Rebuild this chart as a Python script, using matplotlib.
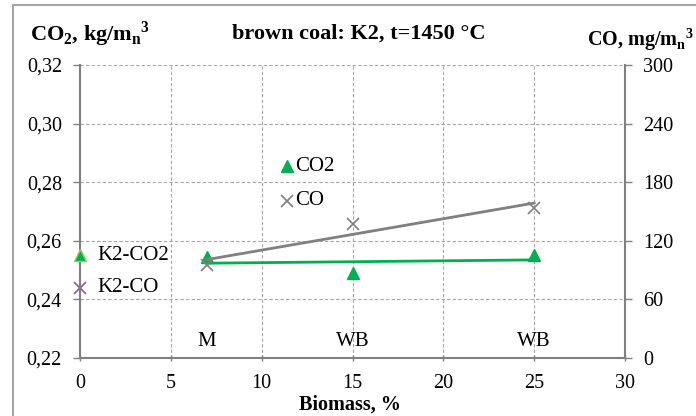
import numpy as np
import matplotlib.pyplot as plt
from matplotlib.patches import Rectangle

plt.rcParams['font.family'] = ['Liberation Serif', 'DejaVu Serif']
plt.rcParams['mathtext.fontset'] = 'custom'
plt.rcParams['mathtext.rm'] = 'Liberation Serif'
plt.rcParams['mathtext.bf'] = 'Liberation Serif:bold'

# biomass share, %
biomass = [7, 15, 25]
co2 = [0.2545, 0.249, 0.2552]      # kg/m_n^3, left axis
co = [95, 137, 154]                # mg/m_n^3, right axis
biomass_kind = ['M', 'WB', 'WB']

# K2 reference (0 % biomass)
k2_co2 = 0.255
k2_co = 72

# marker "legend" entries placed inside the plot
leg_x = 11.4
leg_co2 = 0.2855
leg_co = 161

green = '#00b050'
grey = '#808080'

fig = plt.figure(figsize=(6.96, 4.16), dpi=100)
ax = fig.add_axes([80/696, 1-358/416, 545/696, 293/416])
ax2 = ax.twinx()

ax.set_xlim(0, 30)
ax.set_ylim(0.22, 0.32)
ax2.set_ylim(0, 300)
ax.set_xticks(range(0, 31, 5))
yt = np.arange(0.22, 0.3201, 0.02)
ax.set_yticks(yt)
ax.set_yticklabels([('%.2f' % v).replace('.', ',') for v in yt])
ax2.set_yticks(range(0, 301, 60))

ax.grid(True, ls=(0, (3, 2)), color='#a6a6a6', lw=0.8)
ax.set_axisbelow(True)
for a in (ax, ax2):
    for s in a.spines.values():
        s.set_visible(False)
    a.tick_params(labelsize=14.5, length=5, color=grey, width=1)
ax.spines['left'].set_visible(True)
ax.spines['bottom'].set_visible(True)
ax2.spines['right'].set_visible(True)
for s in (ax.spines['left'], ax.spines['bottom'], ax2.spines['right']):
    s.set_color(grey)
    s.set_linewidth(1.5)
ax.tick_params(axis='x', direction='inout', pad=9)
ax.tick_params(axis='y', direction='out', pad=8)
ax2.tick_params(axis='y', direction='out', pad=8)

# trend lines
p = np.polyfit(biomass, co2, 1)
ax.plot([biomass[0], biomass[-1]], np.polyval(p, [biomass[0], biomass[-1]]),
        color=green, lw=2, zorder=3)
p2 = np.polyfit(biomass, co, 1)
ax2.plot([biomass[0], biomass[-1]], np.polyval(p2, [biomass[0], biomass[-1]]),
         color=grey, lw=2, zorder=3)

# measured points
ax.plot(biomass, co2, '^', color=green, ms=9, zorder=4, clip_on=False)
ax2.plot(biomass, co, 'x', color=grey, ms=8, mew=1.2, zorder=4, clip_on=False)

ax.plot([0], [k2_co2], '^', color=green, mec='#92d050', ms=9, clip_on=False, zorder=5)
ax2.plot([0], [k2_co], 'x', color='#8064a2', ms=8, mew=1.2, clip_on=False, zorder=5)
ax.text(0.95, k2_co2, 'K2-CO2', fontsize=15, va='center')
ax2.text(0.95, k2_co, 'K2-CO', fontsize=15, va='center')

ax.plot([leg_x], [leg_co2], '^', color=green, ms=9)
ax2.plot([leg_x], [leg_co], 'x', color=grey, ms=8, mew=1.2)
ax.text(leg_x + 0.45, leg_co2, 'CO2', fontsize=15, va='center')
ax2.text(leg_x + 0.45, leg_co, 'CO', fontsize=15, va='center')

for x, lab in zip(biomass, biomass_kind):
    ax.text(x, 0.2258, lab, fontsize=15, ha='center', va='center')

fig.text(30/696, 1-34/416, r'CO$_\mathbf{2}$, kg/m$_\mathbf{n}$$^\mathbf{3}$',
         fontsize=16, fontweight='bold', va='center')
fig.text(359/696, 1-34/416, 'brown coal: K2, t=1450 °C',
         fontsize=16, fontweight='bold', va='center', ha='center')
fig.text(694/696, 1-40/416, r'CO, mg/m$_\mathbf{n}$$^\mathbf{3}$',
         fontsize=14.5, fontweight='bold', va='center', ha='right')
fig.text(350/696, 1-405/416, 'Biomass, %', fontsize=14.5, fontweight='bold',
         va='center', ha='center')

fig.patches.append(Rectangle((13/696, -0.1), 1.0, 1.1 - 5/416,
                             transform=fig.transFigure, fill=False,
                             ec='#a6a6a6', lw=1.5))

fig.savefig('out.png', dpi=100)
